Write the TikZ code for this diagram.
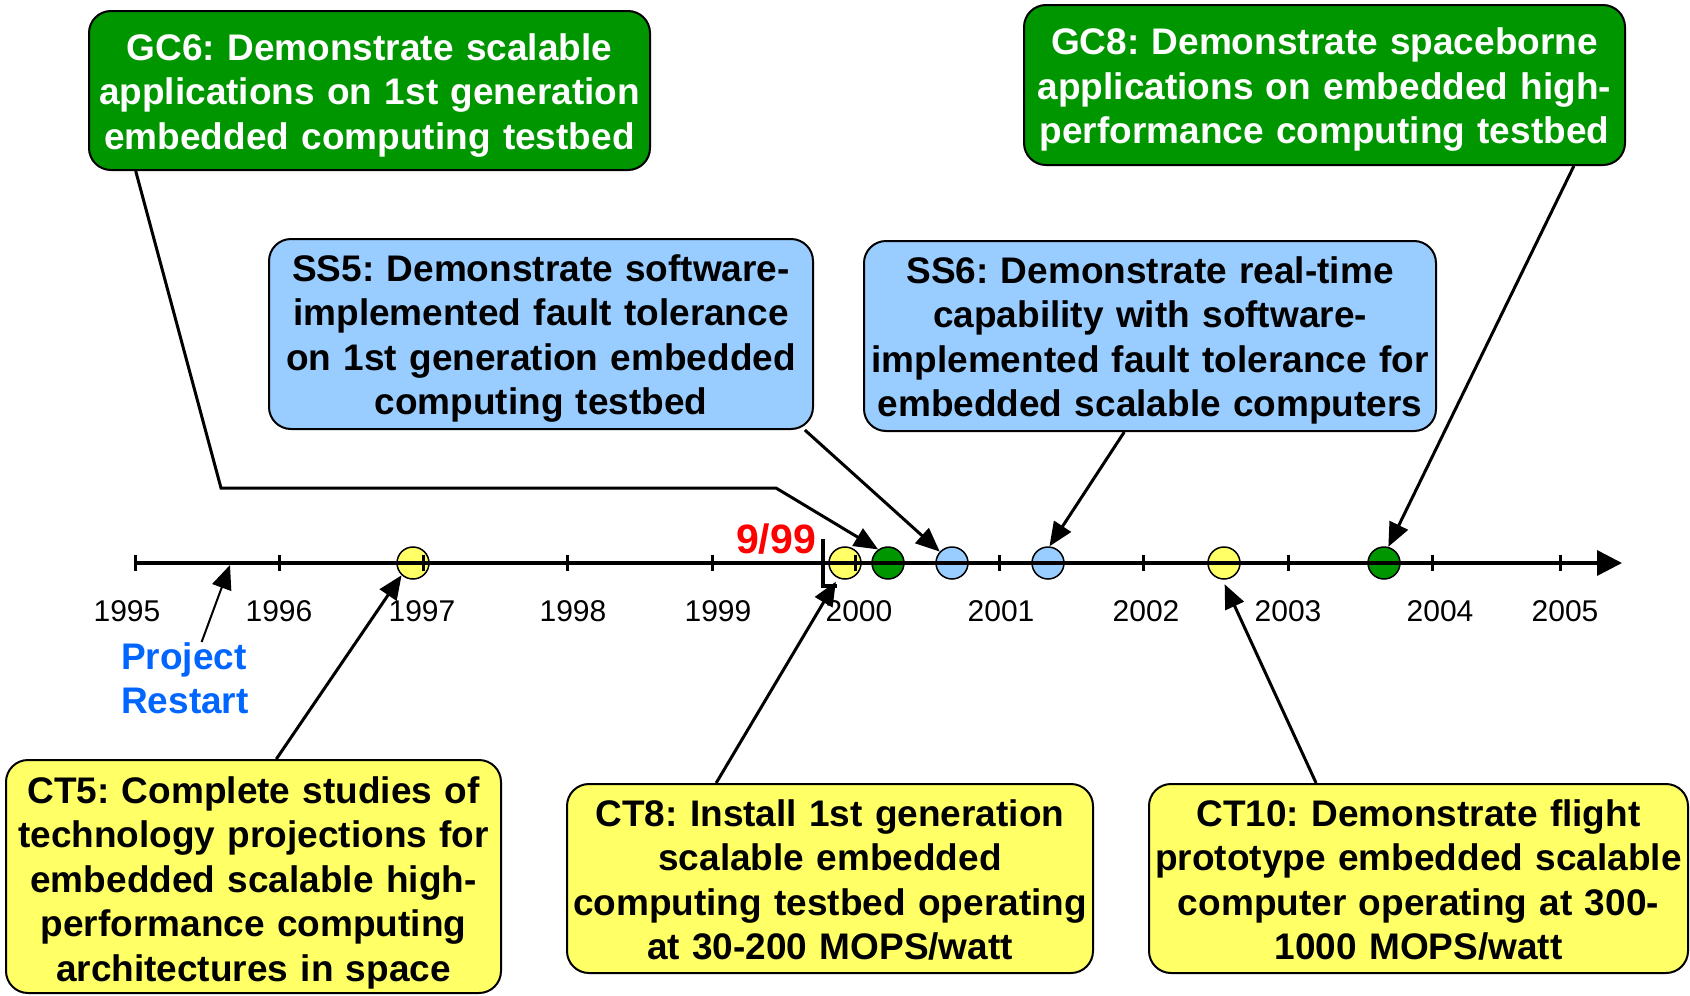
\documentclass[tikz,border=0pt]{standalone}
\usepackage{fontspec}
\setmainfont{Liberation Sans}
\usetikzlibrary{arrows.meta}
\definecolor{msgreen}{RGB}{0,150,0}
\definecolor{msblue}{RGB}{153,204,255}
\definecolor{msyellow}{RGB}{255,255,102}
\definecolor{restartblue}{RGB}{0,102,255}
\tikzset{
  box/.style = {align=center, rounded corners=22pt, draw=black, line width=2pt,
    inner sep=0pt, font=\frenchspacing\bfseries\fontsize{37}{44.5}\selectfont},
  box_g/.style = {box, fill=msgreen, text=white},% goal, vert
  box_b/.style = {box, fill=msblue},% milestone, bleu
  box_y/.style = {box, fill=msyellow},% milestone, jaune
  boxsize/.style n args = {2}{minimum width=#1, text width=#1-6pt, minimum height=#2},
  textdown/.style = {execute at begin node={\leavevmode\rule{0pt}{#1}}},% pousse le texte vers le bas
  dot/.style = {circle, draw=black, line width=1.5pt, minimum size=32pt,
    inner sep=0pt},
  dot_g/.style = {dot, fill=msgreen},
  dot_b/.style = {dot, fill=msblue},
  dot_y/.style = {dot, fill=msyellow},
  conn/.style = {line width=3pt, -{Triangle[length=24pt,width=20pt]}},
  yearlbl/.style = {font=\fontsize{30}{36}\selectfont, inner sep=0pt}
}
\begin{document}
\begin{tikzpicture}[x=1pt, y=-1pt]
  \useasboundingbox (0,0) rectangle (1690,996);
  % milestones on the time line
  \node (y1) [dot_y] at (413,563) {};
  \node (y2) [dot_y] at (845,563) {};
  \node (g1) [dot_g] at (888,563) {};
  \node (b1) [dot_b] at (952,563) {};
  \node (b2) [dot_b] at (1048,563) {};
  \node (y3) [dot_y] at (1224,563) {};
  \node (g2) [dot_g] at (1384,563) {};
  % time line
  \coordinate (tstart) at (135,563);
  \coordinate (tend) at (1622,563);
  \draw[line width=3.5pt, -{Triangle[length=25pt,width=25pt]}] (tstart) -- (tend);
  \foreach \x in {135,279,423,567,712,855,999,1143,1288,1432,1560}
    \draw[line width=3pt] (\x,555) -- (\x,571);
  \foreach \x/\yr in {127/1995,279/1996,422/1997,573/1998,718/1999,
      859/2000,1001/2001,1146/2002,1288/2003,1440/2004,1565/2005}
    \node (yr\yr) [yearlbl] at (\x,611) {\yr};
  % 9/99
  \draw[line width=4.5pt] (823,539) -- (823,586) -- (837,586);
  \node (now) [text=red, font=\bfseries\fontsize{41}{48}\selectfont, inner sep=0pt]
    at (776,539) {9/99};
  % project restart
  \node (restart) [anchor=north west, align=left, inner sep=0pt, text=restartblue,
    font=\bfseries\fontsize{37}{44}\selectfont] at (121,642) {Project\\Restart};
  \coordinate (restartpt) at (230,565);
  % boxes
  \node (gc6) [box_g, textdown=36pt, boxsize={561pt}{159pt}] at (369.5,90.5)
    {GC6: Demonstrate scalable\\applications on 1st generation\\embedded computing testbed};
  \node (gc8) [box_g, textdown=36pt, boxsize={601pt}{160pt}] at (1324.5,85)
    {GC8: Demonstrate spaceborne\\applications on embedded high-\\performance computing testbed};
  \node (ss5) [box_b, textdown=36pt, boxsize={544pt}{190pt}] at (541,334)
    {SS5: Demonstrate software-\\implemented fault tolerance\\on 1st generation embedded\\computing testbed};
  \node (ss6) [box_b, textdown=36pt, boxsize={572pt}{190pt}] at (1150,336)
    {SS6: Demonstrate real-time\\capability with software-\\implemented fault tolerance for\\embedded scalable computers};
  \node (ct5) [box_y, textdown=39pt, boxsize={495pt}{233pt}] at (253.5,876.5)
    {CT5: Complete studies of\\technology projections for\\embedded scalable high-\\performance computing\\architectures in space};
  \node (ct8) [box_y, textdown=30pt, boxsize={526pt}{189pt}] at (830,878.5)
    {CT8: Install 1st generation\\scalable embedded\\computing testbed operating\\at 30-200 MOPS/watt};
  \node (ct10) [box_y, textdown=30pt, boxsize={539pt}{189pt}] at (1418.5,878.5)
    {CT10: Demonstrate flight\\prototype embedded scalable\\computer operating at 300-\\1000 MOPS/watt};
  % connectors
  \coordinate (gc6k1) at (221,488);
  \coordinate (gc6k2) at (776,488);
  \draw[conn] (gc6.-161.7) -- (gc6k1) -- (gc6k2) -- (g1.126);
  \draw[conn] (gc8.-18.3) -- (g2.75);
  \draw[conn] (ss5.-20) -- (b1.137);
  \draw[conn] (ss6.-105) -- (b2.85);
  \draw[conn] (ct5.79) -- (y1.227);
  \draw[conn, shorten >=4pt] (ct8.140.8) -- (y2.245);
  \draw[conn, shorten >=5pt] (ct10.137.6) -- (y3.265);
  \draw[line width=2pt, -{Triangle[length=24pt,width=20pt]}] (restart.65) -- (restartpt);
\end{tikzpicture}
\end{document}
